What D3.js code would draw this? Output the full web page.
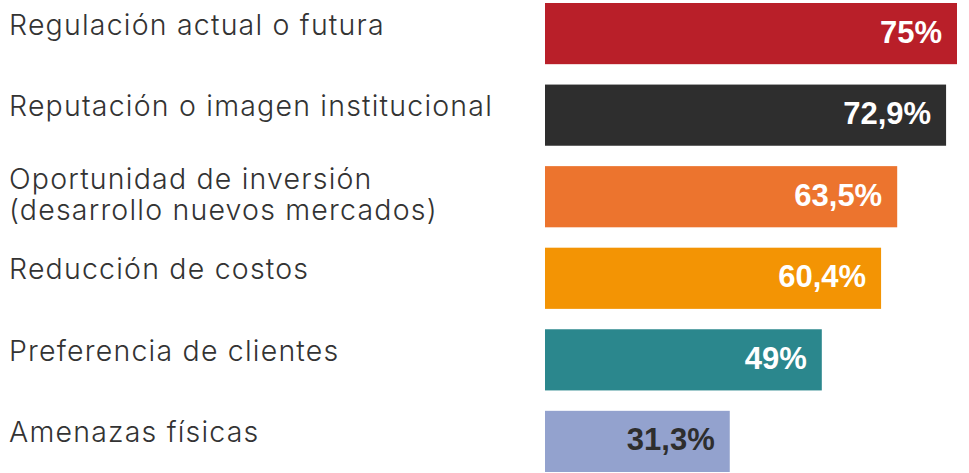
<!DOCTYPE html>
<meta charset="utf-8">
<title>Motivaciones</title>
<style>
body { margin: 0; background: #fff; }
.cat text {
  font-family: Inter, "Helvetica Neue", Roboto, sans-serif;
  font-weight: 300;
  font-size: 28.5px;
  letter-spacing: 1.2px;
  fill: #333;
}
.val {
  font-family: "Liberation Sans", Arial, sans-serif;
  font-weight: bold;
  font-size: 31px;
}
</style>
<svg width="969" height="473"></svg>
<script src="https://d3js.org/d3.v7.min.js"></script>
<script>

var categories = [
  ["Regulación actual o futura"],
  ["Reputación o imagen institucional"],
  ["Oportunidad de inversión", "(desarrollo nuevos mercados)"],
  ["Reducción de costos"],
  ["Preferencia de clientes"],
  ["Amenazas físicas"]
];
var values = [75, 72.9, 63.5, 60.4, 49, 31.3];
var valueLabels = ["75%", "72,9%", "63,5%", "60,4%", "49%", "31,3%"];
var colors = ["#b91f29", "#2e2e2e", "#ec742e", "#f39404", "#2b878d", "#93a2ce"];
var labelColors = ["#fff", "#fff", "#fff", "#fff", "#fff", "#2e2e2e"];

var svg = d3.select("svg"),
    width = +svg.attr("width"),
    height = +svg.attr("height");

var idx = d3.range(values.length);

// bar lengths in the original are not strictly proportional, so the scale has an offset
var x = d3.scaleLinear()
    .domain([0, 75])
    .range([22, 412]);

var y = d3.scaleBand()
    .domain(idx)
    .range([3, 472])
    .paddingInner(0.25)
    .paddingOuter(0);

var x0 = 545;

// bars
svg.append("g")
  .selectAll("rect")
  .data(idx)
  .enter().append("rect")
    .attr("x", x0)
    .attr("y", function(i) { return y(i); })
    .attr("width", function(i) { return x(values[i]); })
    .attr("height", y.bandwidth())
    .attr("fill", function(i) { return colors[i]; });

// value labels inside the bars
svg.append("g")
  .selectAll("text")
  .data(idx)
  .enter().append("text")
    .attr("class", "val")
    .attr("x", function(i) { return x0 + x(values[i]) - 15; })
    .attr("y", function(i) { return y(i) + y.bandwidth() / 2 + 9; })
    .attr("text-anchor", "end")
    .attr("fill", function(i) { return labelColors[i]; })
    .text(function(i) { return valueLabels[i]; });

// category labels on the left
var cat = svg.append("g")
    .attr("class", "cat")
  .selectAll("text")
  .data(idx)
  .enter().append("text")
    .attr("x", 9)
    .attr("y", function(i) {
      var lines = categories[i].length;
      return y(i) + y.bandwidth() / 2 + 1 - (lines - 1) * 9;
    });

cat.selectAll("tspan")
  .data(function(i) { return categories[i]; })
  .enter().append("tspan")
    .attr("x", 9)
    .attr("dy", function(d, j) { return j ? 31 : 0; })
    .text(function(d) { return d; });

</script>
